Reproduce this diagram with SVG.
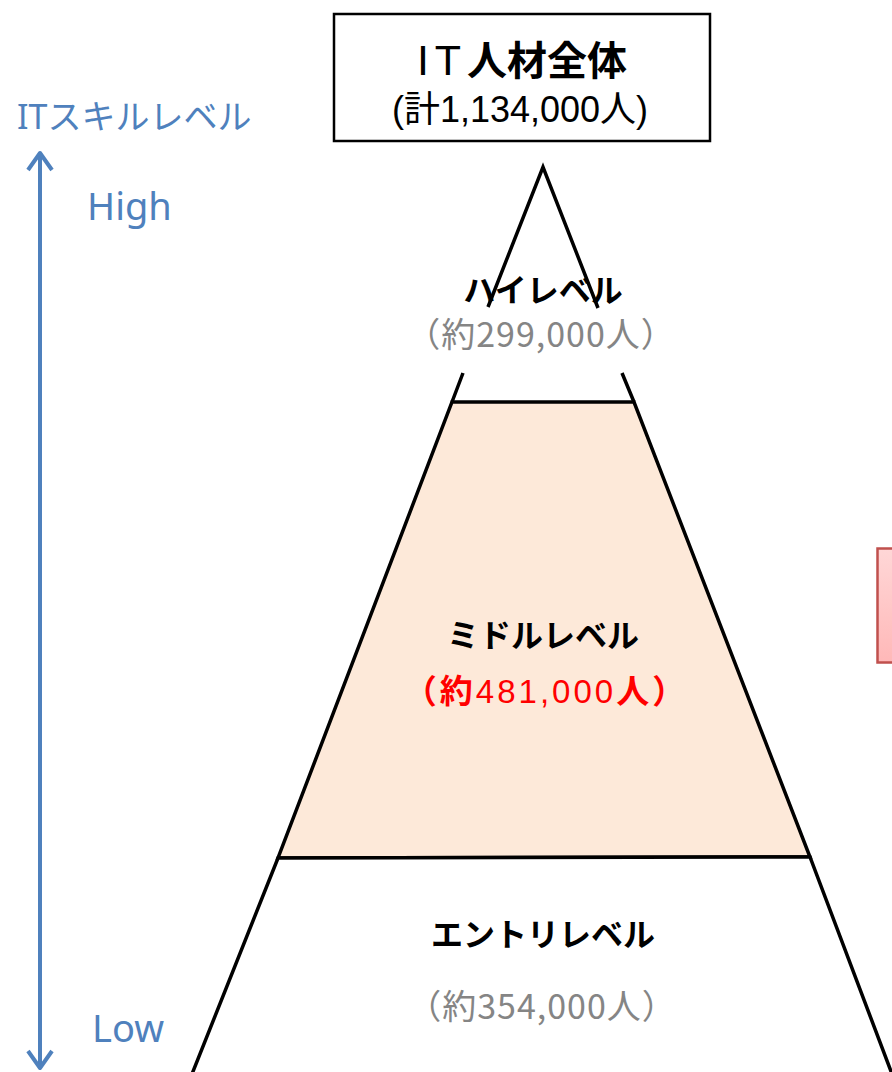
<svg xmlns="http://www.w3.org/2000/svg" width="892" height="1072" viewBox="0 0 892 1072">
  <style>
    .edge { fill: none; stroke: #000; stroke-width: 3.5; stroke-linecap: butt; }
    .lvl { font-family: "Noto Sans CJK JP", sans-serif; font-weight: bold; font-size: 32px; fill: #000; text-anchor: middle; }
    .cnt { font-family: "Noto Sans CJK JP", sans-serif; font-size: 34px; letter-spacing: 1px; fill: #858585; text-anchor: middle; }
    .axis { font-family: "Noto Sans", "Noto Sans CJK JP", sans-serif; fill: #4F81BD; }
  </style>
  <defs>
    <marker id="chev" viewBox="0 0 26 28" refX="21" refY="14" markerWidth="26" markerHeight="28" markerUnits="userSpaceOnUse" orient="auto-start-reverse" overflow="visible">
      <path d="M4,2 L21,14 L4,26" fill="none" stroke="#4F81BD" stroke-width="4" stroke-linejoin="round"/>
    </marker>
    <linearGradient id="pink" x1="0" y1="0" x2="0" y2="1">
      <stop offset="0" stop-color="#FFD7D7"/>
      <stop offset="1" stop-color="#FFB8B8"/>
    </linearGradient>
  </defs>
  <rect width="892" height="1072" fill="#fff"/>

  <g id="connectors">
    <line x1="40" y1="153" x2="40" y2="1068" stroke="#4F81BD" stroke-width="4" marker-start="url(#chev)" marker-end="url(#chev)"/>
  </g>

  <g id="axis-labels">
    <text class="axis" x="17" y="129" font-size="34" font-family="'Noto Sans CJK JP', sans-serif">ITスキルレベル</text>
    <text class="axis" x="87" y="220" font-size="38">High</text>
    <text class="axis" x="92" y="1042" font-size="38">Low</text>
  </g>

  <g id="total">
    <rect x="334" y="14" width="376" height="127" fill="#fff" stroke="#000" stroke-width="2.5"/>
    <text x="522" y="75" text-anchor="middle" font-size="40" font-family="'Liberation Sans', 'Noto Sans CJK JP', sans-serif"><tspan font-size="43" letter-spacing="6">IT</tspan><tspan font-weight="bold" font-family="'Noto Sans CJK JP', sans-serif">人材全体</tspan></text>
    <text x="520" y="122" text-anchor="middle" font-size="36" font-family="'Liberation Sans', 'Noto Sans CJK JP', sans-serif">(計1,134,000人)</text>
  </g>

  <g id="high">
    <path class="edge" d="M488,307 L543,167 L598,308"/>
    <path class="edge" d="M463,373 L452,402 M622,373 L634,402"/>
    <text class="lvl" x="543" y="302" font-size="33">ハイレベル</text>
    <text class="cnt" x="541" y="347">（約299,000人）</text>
  </g>

  <g id="middle">
    <polygon points="452,402 634,402 810,857 278,858" fill="#FDE9D9" stroke="#000" stroke-width="3.5" stroke-linejoin="miter"/>
    <text class="lvl" x="543" y="647">ミドルレベル</text>
    <text x="546" y="703" text-anchor="middle" font-size="33" fill="#FF0000" font-family="'Noto Sans CJK JP', sans-serif"><tspan font-weight="bold" letter-spacing="3">（約</tspan><tspan letter-spacing="3" font-family="'Liberation Sans', 'Noto Sans CJK JP', sans-serif">481,000</tspan><tspan font-weight="bold" letter-spacing="3">人）</tspan></text>
  </g>

  <g id="entry">
    <path d="M278,858 L810,857 L892,1076 L191,1076 Z" fill="#fff"/>
    <path class="edge" d="M192,1074 L278,858 L810,857 L892,1074"/>
    <text class="lvl" x="543" y="946">エントリレベル</text>
    <text class="cnt" x="542" y="1019">（約354,000人）</text>
  </g>

  <g id="callout">
    <rect x="877.5" y="548.5" width="30" height="114" fill="url(#pink)" stroke="#C0504D" stroke-width="2.5"/>
  </g>
</svg>
